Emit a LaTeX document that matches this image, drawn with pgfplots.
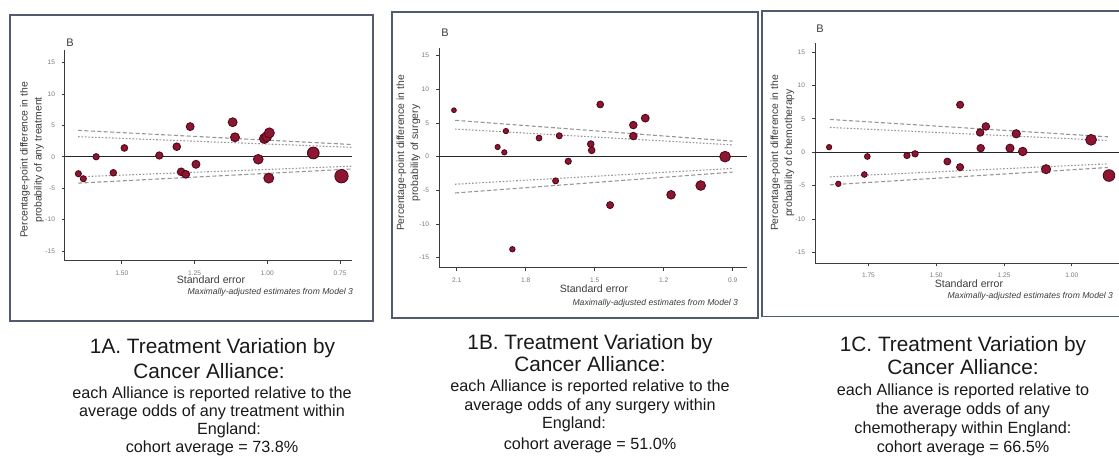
\documentclass[border=0pt]{standalone}
\usepackage{pgfplots}
\pgfplotsset{compat=1.18}
\usepackage{fontspec}
\setmainfont{Liberation Sans}
\definecolor{dotred}{RGB}{140,22,50}
\definecolor{dotdark}{RGB}{80,8,25}
\definecolor{framec}{RGB}{80,92,108}
\definecolor{funnel}{RGB}{150,150,150}
\definecolor{axisgray}{RGB}{60,60,60}
\definecolor{ticklab}{RGB}{120,120,120}
\definecolor{captext}{RGB}{25,25,25}

\pgfplotsset{
  panel/.style={
    scale only axis,
    anchor=south west,
    x dir=reverse,
    axis x line*=bottom,
    axis y line*=left,
    axis line style={axisgray, line width=0.5pt},
    tick style={axisgray, line width=0.35pt},
    major tick length=1.5pt,
    tick align=outside,
    ytick={-15,-10,-5,0,5,10,15},
    yticklabels={-15,-10,-5,0,5,10,15},
    ticklabel style={font=\fontsize{3.3}{4}\selectfont, text=ticklab},
    /pgf/number format/assume math mode=true,
    clip=false,
  },
  dots/.style={scatter, only marks, mark=*,
    scatter/use mapped color={draw=dotdark, fill=dotred},
    visualization depends on={\thisrow{r}\as\rad},
    scatter/@pre marker code/.append style={/tikz/mark size=\rad},
    mark options={line width=0.45pt}},
  dashfun/.style={funnel, line width=0.55pt, dash pattern=on 2pt off 1.2pt},
  dotfun/.style={funnel, line width=0.55pt, dash pattern=on 0.8pt off 0.9pt},
  zeroline/.style={black!85, line width=0.65pt},
}

\begin{document}
\begin{tikzpicture}
\begin{scope}[x=0.5pt,y=-0.5pt]
  \coordinate (P1) at (65,261);
  \coordinate (P2) at (439,267.7);
  \coordinate (P3) at (815,263.3);
  % panel frames
  \draw[framec, line width=0.75pt] (10,15) rectangle (373,321);
  \draw[framec, line width=0.75pt] (392,12) rectangle (758,318);
  \draw[framec, line width=0.75pt] (762,11) rectangle (1140,316.7);
  % panel letters
  \node[font=\fontsize{5.5}{6}\selectfont, text=axisgray] at (70,43) {B};
  \node[font=\fontsize{5.5}{6}\selectfont, text=axisgray] at (445,33) {B};
  \node[font=\fontsize{5.5}{6}\selectfont, text=axisgray] at (820,29) {B};
  % y labels
  \node[rotate=90, align=center, font=\fontsize{5.2}{7}\selectfont, text=axisgray] at (32,160) {Percentage-point difference in the\\probability of any treatment};
  \node[rotate=90, align=center, font=\fontsize{5.2}{7}\selectfont, text=axisgray] at (408.5,153) {Percentage-point difference in the\\probability of surgery};
  \node[rotate=90, align=center, font=\fontsize{5.2}{7}\selectfont, text=axisgray] at (782.5,153) {Percentage-point difference in the\\probability of chemotherapy};
  % x labels
  \node[font=\fontsize{5.3}{6}\selectfont, text=axisgray] at (211,280) {Standard error};
  \node[font=\fontsize{5.3}{6}\selectfont, text=axisgray] at (594,288.3) {Standard error};
  \node[font=\fontsize{5.3}{6}\selectfont, text=axisgray] at (969,283.3) {Standard error};
  % notes
  \node[anchor=east, font=\fontsize{4.3}{5}\selectfont\itshape, text=axisgray] at (360,292.3) {Maximally-adjusted estimates from Model 3};
  \node[anchor=east, font=\fontsize{4.3}{5}\selectfont\itshape, text=axisgray] at (745,303.3) {Maximally-adjusted estimates from Model 3};
  \node[anchor=east, font=\fontsize{4.3}{5}\selectfont\itshape, text=axisgray] at (1120,296.7) {Maximally-adjusted estimates from Model 3};
  % captions
  \begin{scope}[every node/.style={anchor=base, text=captext}]
    \node[font=\fontsize{10.4}{12}\selectfont] at (212.5,353.3) {1A. Treatment Variation by};
    \node[font=\fontsize{10.4}{12}\selectfont] at (209,378.3) {Cancer Alliance:};
    \node[font=\fontsize{8.1}{9}\selectfont] at (212,399) {each Alliance is reported relative to the};
    \node[font=\fontsize{8.1}{9}\selectfont] at (212,416.7) {average odds of any treatment within};
    \node[font=\fontsize{8.1}{9}\selectfont] at (229,435) {England:};
    \node[font=\fontsize{8.1}{9}\selectfont] at (212,452.7) {cohort average = 73.8\%};
    \node[font=\fontsize{10.4}{12}\selectfont] at (590,349.3) {1B. Treatment Variation by};
    \node[font=\fontsize{10.4}{12}\selectfont] at (590,371.7) {Cancer Alliance:};
    \node[font=\fontsize{8.1}{9}\selectfont] at (590,391.7) {each Alliance is reported relative to the};
    \node[font=\fontsize{8.1}{9}\selectfont] at (590,410.7) {average odds of any surgery within};
    \node[font=\fontsize{8.1}{9}\selectfont] at (574,429) {England:};
    \node[font=\fontsize{8.1}{9}\selectfont] at (590,450) {cohort average = 51.0\%};
    \node[font=\fontsize{10.4}{12}\selectfont] at (963,351.7) {1C. Treatment Variation by};
    \node[font=\fontsize{10.4}{12}\selectfont] at (963,375) {Cancer Alliance:};
    \node[font=\fontsize{8.1}{9}\selectfont] at (963,395.7) {each Alliance is reported relative to};
    \node[font=\fontsize{8.1}{9}\selectfont] at (963,414.3) {the average odds of any};
    \node[font=\fontsize{8.1}{9}\selectfont] at (963,433.3) {chemotherapy within England:};
    \node[font=\fontsize{8.1}{9}\selectfont] at (963,452.7) {cohort average = 66.5\%};
  \end{scope}
\end{scope}

% ---------------- Panel 1A ----------------
\begin{axis}[panel, at={(P1)},
  width=143.5pt, height=105.5pt,
  xmin=0.709, xmax=1.695, ymin=-16.6, ymax=17.0,
  xtick={0.75,1,1.25,1.5}, xticklabels={0.75,1.00,1.25,1.50}]
  \addplot[dashfun] coordinates {(1.65,4.2) (0.71,1.95)};
  \addplot[dotfun] coordinates {(1.65,3.2) (0.71,1.5)};
  \addplot[dotfun] coordinates {(1.65,-3.2) (0.71,-1.5)};
  \addplot[dashfun] coordinates {(1.65,-4.2) (0.71,-1.95)};
  \addplot[zeroline] coordinates {(1.695,0) (0.709,0)};
  \addplot[dots] table[x=se,y=d] {
se d r
1.649 -2.7 1.52
1.632 -3.5 1.53
1.588 0.0 1.57
1.529 -2.55 1.63
1.491 1.4 1.67
1.371 0.2 1.82
1.311 1.6 1.90
1.296 -2.4 1.92
1.280 -2.8 1.95
1.265 4.8 1.97
1.245 -1.2 2.00
1.119 5.5 2.22
1.111 3.1 2.24
1.031 -0.4 2.41
1.010 2.9 2.46
1.002 3.2 2.48
0.993 3.8 2.50
0.995 -3.4 2.49
0.842 0.6 2.93
0.745 -3.1 3.33
};
\end{axis}

% ---------------- Panel 1B ----------------
\begin{axis}[panel, at={(P2)},
  width=153.85pt, height=109.7pt,
  xmin=0.839, xmax=2.177, ymin=-16.5, ymax=16.1,
  xtick={0.9,1.2,1.5,1.8,2.1}, xticklabels={0.9,1.2,1.5,1.8,2.1}]
  \addplot[dashfun] coordinates {(2.107,5.4) (0.9,2.3)};
  \addplot[dotfun] coordinates {(2.107,4.1) (0.9,1.75)};
  \addplot[dotfun] coordinates {(2.107,-4.1) (0.9,-1.75)};
  \addplot[dashfun] coordinates {(2.107,-5.4) (0.9,-2.3)};
  \addplot[zeroline] coordinates {(2.177,0) (0.839,0)};
  \addplot[dots] table[x=se,y=d] {
se d r
2.112 6.9 1.18
1.922 1.43 1.30
1.886 3.8 1.33
1.893 0.64 1.32
1.858 -13.76 1.35
1.742 2.76 1.44
1.670 -3.6 1.50
1.654 3.1 1.51
1.615 -0.69 1.55
1.517 1.87 1.65
1.513 0.94 1.65
1.476 7.75 1.69
1.433 -7.2 1.74
1.332 4.69 1.88
1.332 3.06 1.88
1.280 5.72 1.95
1.168 -5.67 2.14
1.039 -4.29 2.41
0.933 0.0 2.68
};
\end{axis}

% ---------------- Panel 1C ----------------
\begin{axis}[panel, at={(P3)},
  width=160pt, height=110.3pt,
  xmin=0.767, xmax=1.947, ymin=-16.65, ymax=16.4,
  xtick={1,1.25,1.5,1.75}, xticklabels={1.00,1.25,1.50,1.75}]
  \addplot[dashfun] coordinates {(1.892,4.9) (0.867,2.3)};
  \addplot[dotfun] coordinates {(1.892,3.7) (0.867,1.75)};
  \addplot[dotfun] coordinates {(1.892,-3.7) (0.867,-1.75)};
  \addplot[dashfun] coordinates {(1.892,-4.9) (0.867,-2.3)};
  \addplot[zeroline] coordinates {(1.947,0) (0.767,0)};
  \addplot[dots] table[x=se,y=d] {
se d r
1.895 0.75 1.32
1.861 -4.75 1.34
1.754 -0.65 1.43
1.765 -3.35 1.42
1.608 -0.5 1.55
1.578 -0.25 1.58
1.459 -1.4 1.71
1.412 7.1 1.77
1.412 -2.25 1.77
1.338 2.95 1.87
1.336 0.6 1.87
1.317 3.85 1.90
1.228 0.6 2.04
1.205 2.75 2.07
1.181 0.1 2.12
1.095 -2.55 2.28
0.929 1.85 2.69
0.863 -3.5 2.90
};
\end{axis}

\pgfresetboundingbox
\begin{scope}[x=0.5pt,y=-0.5pt]
  \path[use as bounding box] (0,0) rectangle (1119,458);
\end{scope}
\end{tikzpicture}
\end{document}
